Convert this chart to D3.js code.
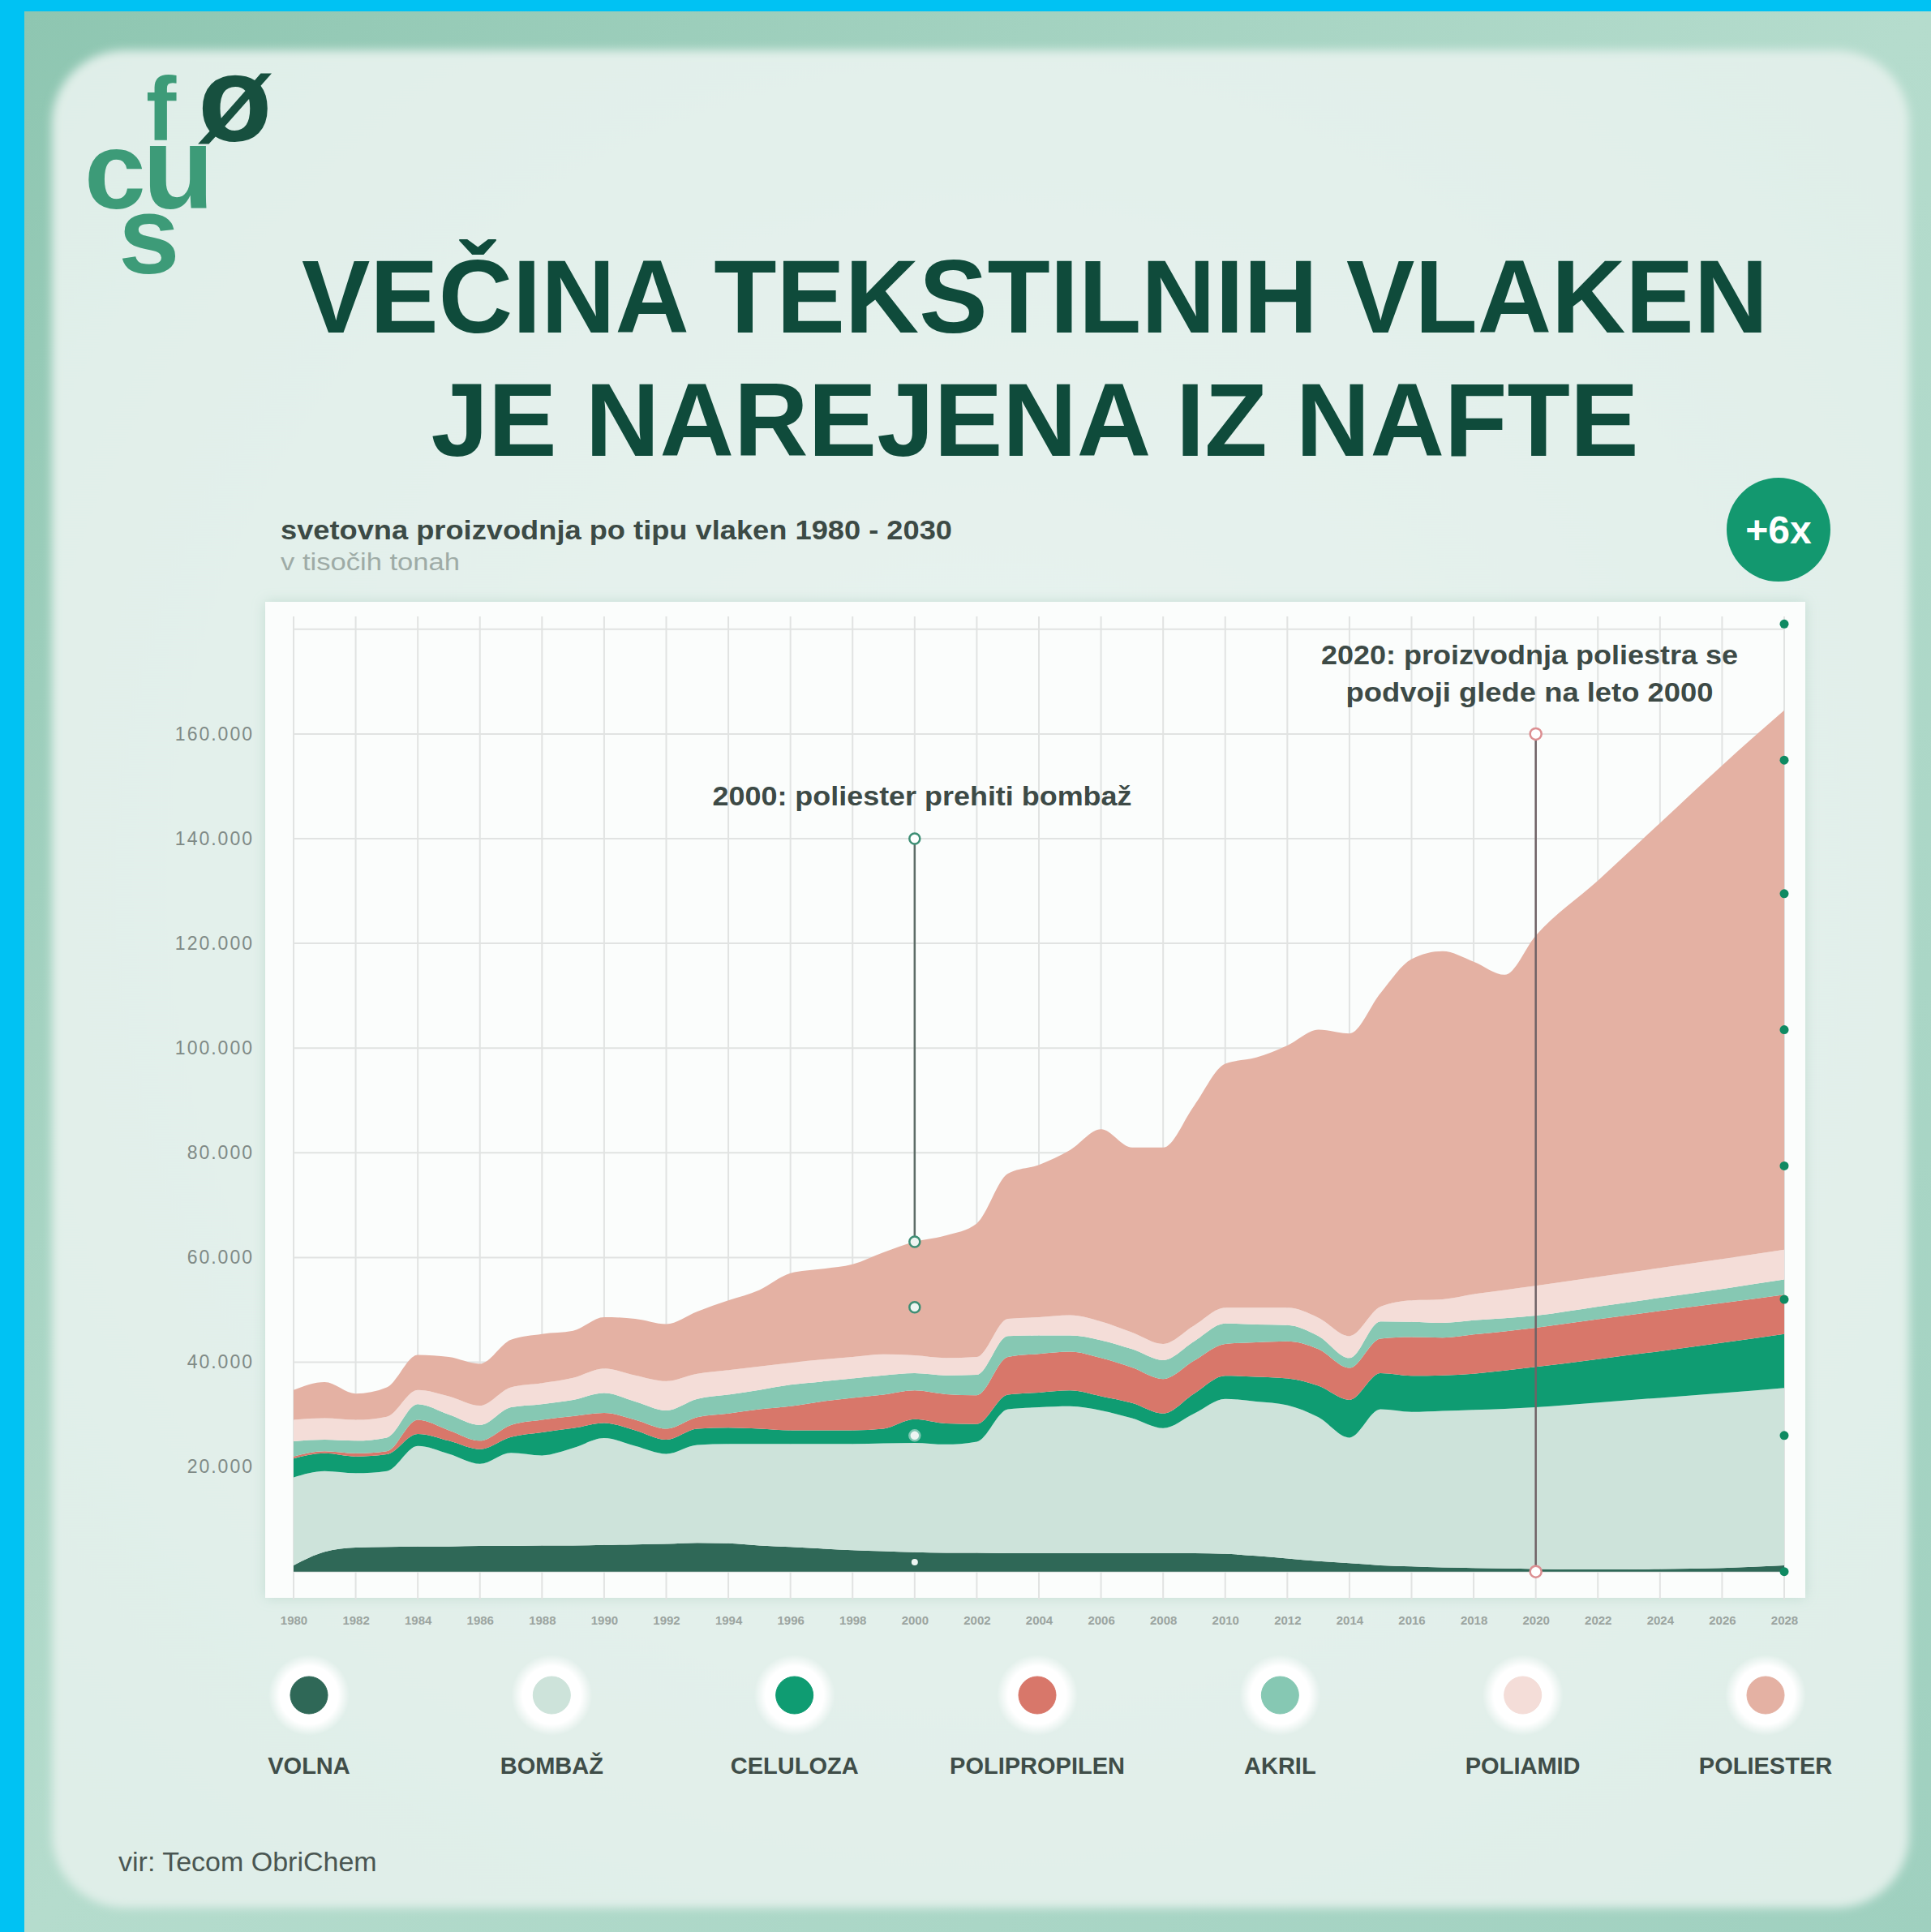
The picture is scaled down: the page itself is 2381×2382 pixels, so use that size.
<!DOCTYPE html>
<html>
<head>
<meta charset="utf-8">
<script src="https://cdn.jsdelivr.net/npm/d3@7"></script>
<style>
  body { margin: 0; background: #00c2f3; }
  svg { display: block; }
  text { font-family: "Liberation Sans", Arial, sans-serif; }
</style>
</head>
<body>
<div id="chart"></div>
<script>
// svetovna proizvodnja po tipu vlaken, v tisočih tonah
const years = [1980, 1981, 1982, 1983, 1984, 1985, 1986, 1987, 1988, 1989,
  1990, 1991, 1992, 1993, 1994, 1995, 1996, 1997, 1998, 1999,
  2000, 2001, 2002, 2003, 2004, 2005, 2006, 2007, 2008, 2009,
  2010, 2011, 2012, 2013, 2014, 2015, 2016, 2017, 2018, 2019,
  2020, 2022, 2024, 2026, 2028];

const volna = [1200, 3800, 4600, 4700, 4800, 4800, 4900, 4900, 5000, 5000,
  5100, 5200, 5300, 5500, 5400, 5000, 4700, 4400, 4100, 3900,
  3700, 3600, 3600, 3500, 3500, 3500, 3500, 3500, 3500, 3500,
  3400, 3000, 2500, 2000, 1600, 1200, 1000, 800, 700, 600,
  500, 400, 500, 700, 1200];
const bombaz = [16800, 15400, 14200, 14500, 19200, 17700, 15700, 17800, 17200, 18600,
  20400, 18800, 17200, 18700, 19000, 19400, 19700, 20000, 20300, 20600,
  20900, 20700, 21200, 27500, 27900, 28100, 27300, 25800, 23900, 26700,
  29600, 29500, 29300, 27500, 24000, 29800, 29500, 29900, 30200, 30500,
  30900, 31900, 32700, 33400, 33900];
const celuloza = [3600, 3400, 3200, 3200, 2300, 2500, 2800, 3000, 4400, 3800,
  2900, 3000, 2700, 3100, 3100, 2900, 2600, 2600, 2600, 2800,
  4500, 4000, 3400, 2800, 2800, 3000, 2700, 2900, 2800, 3800,
  4400, 4700, 5100, 6000, 7200, 6900, 6900, 6800, 6900, 7300,
  7700, 8300, 8900, 9600, 10300];
const polipropilen = [400, 400, 600, 600, 2700, 2000, 1600, 2300, 2400, 2300,
  1900, 2000, 2100, 2200, 2700, 3700, 4600, 5500, 6200, 6500,
  5500, 5600, 5500, 7200, 7400, 7400, 7300, 6800, 6600, 6300,
  6100, 6600, 7100, 7000, 6100, 6600, 7400, 7200, 7500, 7500,
  7500, 7600, 7700, 7600, 7500];
const akril = [2900, 2200, 2400, 2600, 3000, 3000, 3000, 3400, 3000, 3100,
  3800, 3500, 3500, 3500, 3600, 3700, 4100, 3800, 3700, 3700,
  3300, 3600, 3900, 4000, 3500, 3100, 3400, 3500, 3600, 3700,
  3900, 3400, 3100, 2500, 1900, 3300, 2900, 2800, 2700, 2500,
  2300, 2400, 2500, 2700, 2900];
const poliamid = [4100, 4100, 4000, 4000, 2700, 3500, 3700, 3800, 4000, 4200,
  4700, 5000, 5600, 4800, 4700, 4500, 4200, 4200, 4100, 4000,
  3400, 3300, 3400, 3300, 3500, 3900, 3600, 3200, 3100, 3000,
  3000, 3200, 3300, 3500, 4200, 2800, 4100, 4500, 5000, 5400,
  5700, 5700, 5700, 5700, 5700];
const poliester = [5700, 6900, 5000, 5600, 6700, 7500, 8000, 9100, 9400, 9000,
  9800, 10800, 10900, 11900, 13300, 14600, 17100, 17300, 17700, 19500,
  21700, 23400, 25500, 27700, 29100, 31500, 36700, 35300, 37500, 42000,
  46600, 47800, 50100, 55000, 57800, 59900, 65200, 66500, 63500, 60200,
  66900, 75700, 85000, 94300, 103000];

const seriesNames = ["VOLNA", "BOMBAŽ", "CELULOZA", "POLIPROPILEN", "AKRIL", "POLIAMID", "POLIESTER"];
const seriesValues = [volna, bombaz, celuloza, polipropilen, akril, poliamid, poliester];
const seriesColors = ["#2f6857", "#cde3da", "#0f9c72", "#d8776a", "#86c8b3", "#f4ddd8", "#e4b1a3"];

const yTicks = [20000, 40000, 60000, 80000, 100000, 120000, 140000, 160000];
const yGrid = [0, 20000, 40000, 60000, 80000, 100000, 120000, 140000, 160000, 180000];
const xTicks = [1980, 1982, 1984, 1986, 1988, 1990, 1992, 1994, 1996, 1998, 2000, 2002, 2004,
  2006, 2008, 2010, 2012, 2014, 2016, 2018, 2020, 2022, 2024, 2026, 2028];

// annotation markers
const markers2000 = [140000, 63000, 50500, 26000, 1800];
const markers2020 = [160000, 0];
const rightDots = [0, 26000, 52000, 77500, 103500, 129500, 155000, 181000];

const width = 2381, height = 2382;

const svg = d3.select("#chart").append("svg")
    .attr("width", width)
    .attr("height", height);

const defs = svg.append("defs");

const cardGrad = defs.append("radialGradient").attr("id", "card-grad")
    .attr("cx", "50%").attr("cy", "45%").attr("r", "70%");
cardGrad.append("stop").attr("offset", "0%").attr("stop-color", "#e8f3ef");
cardGrad.append("stop").attr("offset", "100%").attr("stop-color", "#dfeee8");

const frameGrad = defs.append("linearGradient").attr("id", "frame-grad")
    .attr("x1", "0%").attr("y1", "0%").attr("x2", "100%").attr("y2", "100%");
frameGrad.append("stop").attr("offset", "0%").attr("stop-color", "#8ec6b1");
frameGrad.append("stop").attr("offset", "50%").attr("stop-color", "#b5dccd");
frameGrad.append("stop").attr("offset", "100%").attr("stop-color", "#9fd0bf");

defs.append("filter").attr("id", "soft")
    .append("feGaussianBlur").attr("stdDeviation", 6);

const shadow = defs.append("filter").attr("id", "panel-shadow")
    .attr("x", "-5%").attr("y", "-5%").attr("width", "110%").attr("height", "110%");
shadow.append("feDropShadow").attr("dx", 0).attr("dy", 0).attr("stdDeviation", 8)
    .attr("flood-color", "#9cc4b5").attr("flood-opacity", 0.45);

const glow = defs.append("radialGradient").attr("id", "glow");
glow.append("stop").attr("offset", "0%").attr("stop-color", "#ffffff").attr("stop-opacity", 1);
glow.append("stop").attr("offset", "72%").attr("stop-color", "#ffffff").attr("stop-opacity", 1);
glow.append("stop").attr("offset", "100%").attr("stop-color", "#ffffff").attr("stop-opacity", 0);

// background: cyan, textured frame, card
svg.append("rect").attr("width", width).attr("height", height).attr("fill", "#00c2f3");
svg.append("rect").attr("x", 30).attr("y", 14).attr("width", width - 30).attr("height", height - 14)
    .attr("fill", "url(#frame-grad)");
svg.append("rect").attr("x", 64).attr("y", 62).attr("width", 2290).attr("height", 2290)
    .attr("rx", 90).attr("fill", "url(#card-grad)").attr("filter", "url(#soft)");

// logo
const logo = svg.append("g").style("font-family", "Lato, sans-serif").style("font-weight", 900);
logo.append("text").attr("x", 180).attr("y", 173).attr("font-size", 112).attr("fill", "#3d9b78").text("f");
logo.append("text").attr("x", 244).attr("y", 174).attr("font-size", 150).attr("fill", "#17503f").text("ø");
logo.append("text").attr("x", 104).attr("y", 257).attr("font-size", 136).attr("fill", "#3d9b78").text("c");
logo.append("text").attr("x", 176).attr("y", 257).attr("font-size", 144).attr("fill", "#3d9b78").text("u");
logo.append("text").attr("x", 146).attr("y", 337).attr("font-size", 136).attr("fill", "#3d9b78").text("s");

// title
svg.append("text").attr("x", 1276).attr("y", 410).attr("text-anchor", "middle")
    .attr("font-size", 128).attr("font-weight", "bold").attr("fill", "#0f4b3b")
    .attr("textLength", 1808).attr("lengthAdjust", "spacingAndGlyphs")
    .text("VEČINA TEKSTILNIH VLAKEN");
svg.append("text").attr("x", 1276).attr("y", 562).attr("text-anchor", "middle")
    .attr("font-size", 128).attr("font-weight", "bold").attr("fill", "#0f4b3b")
    .attr("textLength", 1489).attr("lengthAdjust", "spacingAndGlyphs")
    .text("JE NAREJENA IZ NAFTE");

// subtitle
svg.append("text").attr("x", 346).attr("y", 665)
    .attr("font-size", 33).attr("font-weight", "bold").attr("fill", "#3c4a45")
    .attr("textLength", 828).attr("lengthAdjust", "spacingAndGlyphs")
    .text("svetovna proizvodnja po tipu vlaken 1980 - 2030");
svg.append("text").attr("x", 346).attr("y", 703)
    .attr("font-size", 30).attr("fill", "#9eaba6")
    .attr("textLength", 221).attr("lengthAdjust", "spacingAndGlyphs")
    .text("v tisočih tonah");

// +6x badge
svg.append("circle").attr("cx", 2193).attr("cy", 653).attr("r", 64).attr("fill", "#13986f");
svg.append("text").attr("x", 2193).attr("y", 670).attr("text-anchor", "middle")
    .attr("font-size", 48).attr("font-weight", "bold").attr("fill", "#ffffff").text("+6x");

// plot panel
svg.append("rect").attr("x", 327).attr("y", 742).attr("width", 1899).attr("height", 1228)
    .attr("fill", "#fbfdfc").attr("filter", "url(#panel-shadow)");

const x = d3.scaleLinear().domain([1980, 2028]).range([362, 2200]);
const y = d3.scaleLinear().domain([0, 180000]).range([1937.7, 775.8]);

const grid = svg.append("g").attr("stroke", "#e1e3e2").attr("stroke-width", 2);
grid.selectAll("line.h").data(yGrid).join("line").attr("class", "h")
    .attr("x1", x(1980)).attr("x2", x(2028))
    .attr("y1", d => y(d)).attr("y2", d => y(d));
grid.selectAll("line.v").data(xTicks).join("line").attr("class", "v")
    .attr("x1", d => x(d)).attr("x2", d => x(d))
    .attr("y1", 760).attr("y2", 1972);

// stacked areas
const table = years.map((yr, i) => {
  const row = { year: yr };
  seriesNames.forEach((name, k) => { row[name] = seriesValues[k][i]; });
  return row;
});
const stacked = d3.stack().keys(seriesNames)(table);

const area = d3.area()
    .x(d => x(d.data.year))
    .y0(d => y(d[0]))
    .y1(d => y(d[1]))
    .curve(d3.curveMonotoneX);

svg.append("g").selectAll("path").data(stacked).join("path")
    .attr("d", area)
    .attr("fill", (d, i) => seriesColors[i]);

// axes
const fmt = d3.formatLocale({ decimal: ",", thousands: ".", grouping: [3], currency: ["", ""] }).format(",d");

const yAxis = svg.append("g").attr("transform", "translate(313,0)")
    .call(d3.axisLeft(y).tickValues(yTicks).tickSize(0).tickPadding(0).tickFormat(fmt));
yAxis.select(".domain").remove();
yAxis.selectAll("text").attr("font-size", 23).attr("fill", "#7f8a86")
    .style("letter-spacing", "2px").style("font-family", "'Liberation Sans', Arial, sans-serif");

const xAxis = svg.append("g").attr("transform", "translate(0,1992)")
    .call(d3.axisBottom(x).tickValues(xTicks).tickSize(0).tickPadding(0).tickFormat(d3.format("d")));
xAxis.select(".domain").remove();
xAxis.selectAll("text").attr("font-size", 15).attr("font-weight", "bold").attr("fill", "#9ba4a0")
    .style("font-family", "'Liberation Sans', Arial, sans-serif");

// annotation 2000
svg.append("line").attr("x1", x(2000)).attr("x2", x(2000))
    .attr("y1", y(markers2000[0])).attr("y2", y(markers2000[1]))
    .attr("stroke", "#5d6c67").attr("stroke-width", 2.5);
svg.selectAll("circle.m2000").data(markers2000).join("circle").attr("class", "m2000")
    .attr("cx", x(2000)).attr("cy", d => y(d))
    .attr("r", (d, i) => i === 4 ? 4 : 6.5)
    .attr("fill", (d, i) => i === 0 ? "#ffffff" : "#eef5f2")
    .attr("stroke", (d, i) => i === 4 ? "none" : (i === 3 ? "#7fc8b3" : "#3e8f75"))
    .attr("stroke-width", 2.5);
svg.append("text").attr("x", 1137).attr("y", 993).attr("text-anchor", "middle")
    .attr("font-size", 33).attr("font-weight", "bold").attr("fill", "#3d4a46")
    .attr("textLength", 517).attr("lengthAdjust", "spacingAndGlyphs")
    .text("2000: poliester prehiti bombaž");

// annotation 2020
svg.append("line").attr("x1", x(2020)).attr("x2", x(2020))
    .attr("y1", y(markers2020[0])).attr("y2", y(markers2020[1]))
    .attr("stroke", "#6f6265").attr("stroke-width", 2.5);
svg.selectAll("circle.m2020").data(markers2020).join("circle").attr("class", "m2020")
    .attr("cx", x(2020)).attr("cy", d => y(d)).attr("r", 7)
    .attr("fill", "#ffffff").attr("stroke", "#dc8f92").attr("stroke-width", 2.5);
svg.append("text").attr("x", 1886).attr("y", 819).attr("text-anchor", "middle")
    .attr("font-size", 33).attr("font-weight", "bold").attr("fill", "#3d4a46")
    .attr("textLength", 514).attr("lengthAdjust", "spacingAndGlyphs")
    .text("2020: proizvodnja poliestra se");
svg.append("text").attr("x", 1886).attr("y", 865).attr("text-anchor", "middle")
    .attr("font-size", 33).attr("font-weight", "bold").attr("fill", "#3d4a46")
    .attr("textLength", 453).attr("lengthAdjust", "spacingAndGlyphs")
    .text("podvoji glede na leto 2000");

// right edge dots
svg.selectAll("circle.rd").data(rightDots).join("circle").attr("class", "rd")
    .attr("cx", x(2028)).attr("cy", d => y(d)).attr("r", 5.5).attr("fill", "#0f8a62");

// legend
const legendX = d3.scalePoint().domain(seriesNames).range([381, 2177]);
const legend = svg.append("g").selectAll("g").data(seriesNames).join("g")
    .attr("transform", d => `translate(${legendX(d)},0)`);
legend.append("circle").attr("cy", 2090).attr("r", 50).attr("fill", "url(#glow)");
legend.append("circle").attr("cy", 2090).attr("r", 23).attr("fill", (d, i) => seriesColors[i])
    .attr("stroke", (d, i) => seriesColors[i]).attr("stroke-width", 1);
legend.append("text").attr("y", 2187).attr("text-anchor", "middle")
    .attr("font-size", 29).attr("font-weight", "bold").attr("fill", "#3f4d48")
    .text(d => d);

// source
svg.append("text").attr("x", 146).attr("y", 2307)
    .attr("font-size", 34).attr("fill", "#4a5652")
    .text("vir: Tecom ObriChem");
</script>
</body>
</html>
